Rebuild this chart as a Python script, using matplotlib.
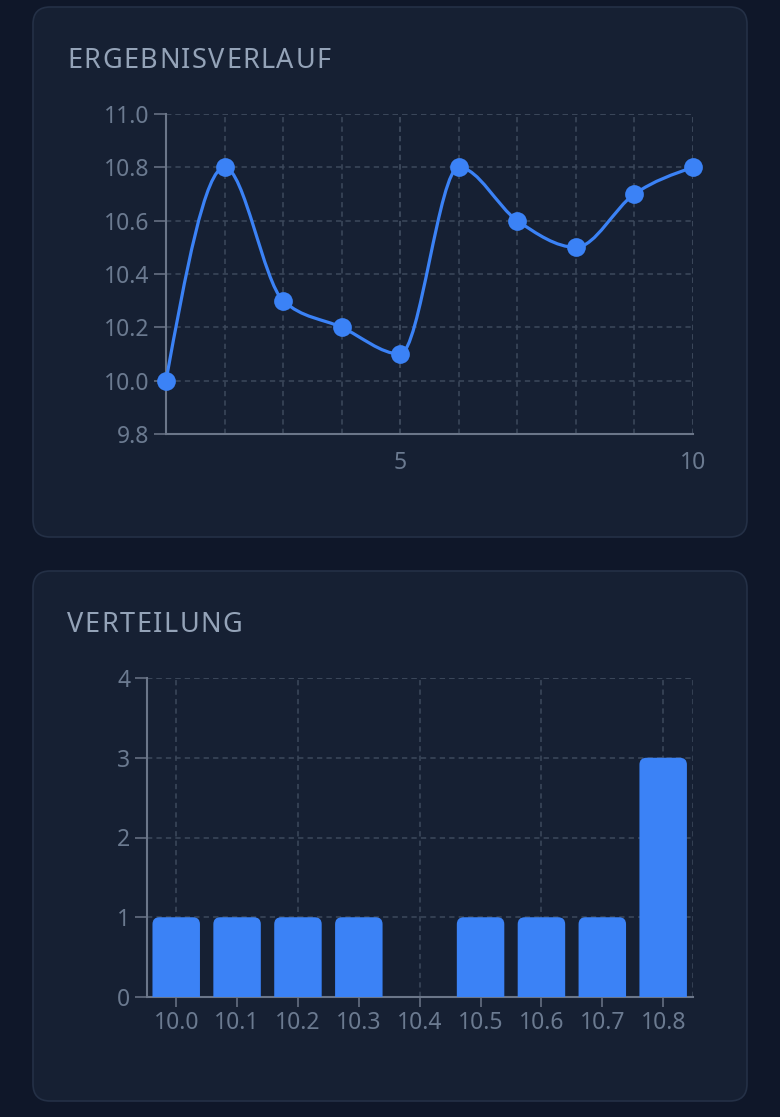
import numpy as np
import matplotlib
matplotlib.use('Agg')
import matplotlib.pyplot as plt
from matplotlib.patches import FancyBboxPatch
from matplotlib.path import Path
from matplotlib.patches import PathPatch

# region Data
runs = [1, 2, 3, 4, 5, 6, 7, 8, 9, 10]
results = [10.0, 10.8, 10.3, 10.2, 10.1, 10.8, 10.6, 10.5, 10.7, 10.8]
line_yticks = [9.8, 10.0, 10.2, 10.4, 10.6, 10.8, 11.0]
line_xticks = [5, 10]

bins = ['10.0', '10.1', '10.2', '10.3', '10.4', '10.5', '10.6', '10.7', '10.8']
counts = [1, 1, 1, 1, 0, 1, 1, 1, 3]
bar_yticks = [0, 1, 2, 3, 4]
# endregion

# region Style
W, H = 780, 1117
BG = '#0f1729'
CARD = '#162033'
CARD_EDGE = '#243046'
TITLE = '#94a3b8'
TICK = '#6b7a90'
AXIS = '#6b7689'
GRID = '#3d495c'
BLUE = '#3b82f6'
DASH = (0, (3.8, 3.0))
FONT = 'Noto Sans'
plt.rcParams['font.family'] = [FONT, 'DejaVu Sans']
plt.rcParams['lines.scale_dashes'] = False
# endregion


def fig_box(x, y, w, h):
    return [x / W, 1 - (y + h) / H, w / W, h / H]


def add_card(fig, x, y, w, h):
    card = FancyBboxPatch((x / W, 1 - (y + h) / H), w / W, h / H,
                          boxstyle='round,pad=0,rounding_size=0.022',
                          mutation_aspect=W / H,
                          transform=fig.transFigure, facecolor=CARD,
                          edgecolor=CARD_EDGE, linewidth=1.2, zorder=-5)
    fig.patches.append(card)


def spaced_title(fig, x, y, s, size, spacing):
    renderer = fig.canvas.get_renderer()
    cx = x
    for ch in s:
        t = fig.text(cx / W, 1 - y / H, ch, fontsize=size, color=TITLE,
                     ha='left', va='baseline')
        cx += t.get_window_extent(renderer).width + spacing


def style_axes(ax):
    ax.set_facecolor('none')
    for side in ['top', 'right']:
        ax.spines[side].set_visible(False)
    for side in ['left', 'bottom']:
        ax.spines[side].set_color(AXIS)
        ax.spines[side].set_linewidth(1.5)
    ax.tick_params(colors=AXIS, labelcolor=TICK, labelsize=16.5, width=1.1)
    ax.grid(True, which='both', color=GRID, linewidth=1.1, linestyle=DASH)
    ax.set_axisbelow(True)


def monotone_path(xs, ys):
    # same curve as d3 curveMonotoneX
    xs = np.asarray(xs, float)
    ys = np.asarray(ys, float)
    n = len(xs)
    h = np.diff(xs)
    s = np.diff(ys) / h
    t = np.zeros(n)
    for i in range(1, n - 1):
        p = (s[i - 1] * h[i] + s[i] * h[i - 1]) / (h[i - 1] + h[i])
        t[i] = (np.sign(s[i - 1]) + np.sign(s[i])) * min(abs(s[i - 1]), abs(s[i]), 0.5 * abs(p))
    t[0] = (3 * s[0] - t[1]) / 2
    t[-1] = (3 * s[-1] - t[-2]) / 2
    verts = [(xs[0], ys[0])]
    codes = [Path.MOVETO]
    for i in range(n - 1):
        dx = h[i] / 3
        verts += [(xs[i] + dx, ys[i] + dx * t[i]),
                  (xs[i + 1] - dx, ys[i + 1] - dx * t[i + 1]),
                  (xs[i + 1], ys[i + 1])]
        codes += [Path.CURVE4] * 3
    return Path(verts, codes)


fig = plt.figure(figsize=(W / 100, H / 100), dpi=100, facecolor=BG)
fig.canvas.draw()

add_card(fig, 33, 7, 714, 530)
add_card(fig, 33, 571, 714, 530)
spaced_title(fig, 67, 68, 'ERGEBNISVERLAUF', 19.5, 1.5)
spaced_title(fig, 67, 632, 'VERTEILUNG', 19.5, 1.5)

# region Line chart
ax1 = fig.add_axes(fig_box(166, 114, 527, 320))
style_axes(ax1)
ax1.set_xlim(1, 10)
ax1.set_ylim(9.8, 11.0)
ax1.set_yticks(line_yticks)
ax1.set_yticklabels(['%.1f' % v for v in line_yticks])
ax1.set_xticks(line_xticks)
ax1.set_xticks(runs, minor=True)
ax1.xaxis.remove_overlapping_locs = False
ax1.tick_params(axis='y', length=8.5, pad=3.5)
ax1.tick_params(axis='x', which='both', length=0, pad=12)
ax1.axhline(11.0, color=GRID, linewidth=1.1, linestyle=DASH, zorder=0.5)
ax1.add_patch(PathPatch(monotone_path(runs, results), facecolor='none',
                        edgecolor=BLUE, linewidth=2.3, zorder=3, clip_on=False))
ax1.plot(runs, results, 'o', color=BLUE, markersize=13.5,
         markeredgewidth=0, zorder=4, clip_on=False)
# endregion

# region Bar chart
ax2 = fig.add_axes(fig_box(147, 678, 546, 319))
style_axes(ax2)
pos = np.arange(len(bins))
ax2.set_xlim(-0.48, len(bins) - 0.51)
ax2.set_ylim(0, 4)
ax2.set_yticks(bar_yticks)
ax2.set_xticks(pos)
ax2.set_xticklabels(bins)
ax2.set_xticks(pos[::2], minor=True)
ax2.xaxis.remove_overlapping_locs = False
ax2.grid(False, axis='x', which='major')
ax2.grid(True, axis='x', which='minor', color=GRID, linewidth=1.1, linestyle=DASH)
ax2.tick_params(axis='x', which='minor', length=0)
ax2.tick_params(axis='y', length=8.5, pad=3.5)
ax2.tick_params(axis='x', which='major', length=7.5, pad=2.5)
ax2.axvline(ax2.get_xlim()[1], color=GRID, linewidth=1.1, linestyle=DASH)
ax2.axhline(4, color=GRID, linewidth=1.1, linestyle=DASH)

bars = ax2.bar(pos, counts, width=0.78, color=BLUE)
x_px = ax2.bbox.width / np.diff(ax2.get_xlim())[0]
y_px = ax2.bbox.height / np.diff(ax2.get_ylim())[0]
r = 7 / x_px
for b in bars:
    b.set_visible(False)
    if b.get_height() <= 0:
        continue
    ext = r * x_px / y_px
    ax2.add_patch(FancyBboxPatch((b.get_x(), -ext), b.get_width(), b.get_height() + ext,
                                 boxstyle='round,pad=0,rounding_size=%f' % r,
                                 mutation_aspect=x_px / y_px,
                                 facecolor=BLUE, edgecolor='none', zorder=3))
# endregion

fig.savefig('out.png', dpi=100, facecolor=BG)
